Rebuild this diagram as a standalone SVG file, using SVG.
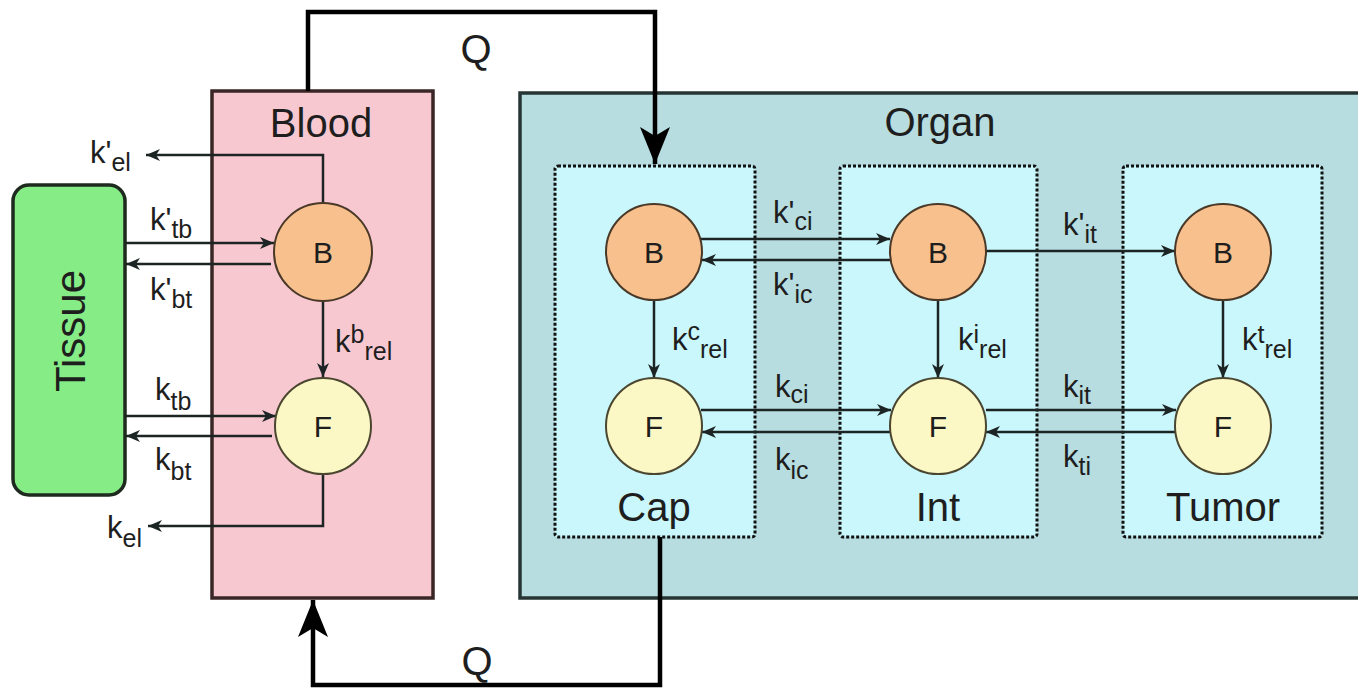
<svg xmlns="http://www.w3.org/2000/svg" width="1358" height="688" viewBox="0 0 1358 688">
<style>
text{font-family:"Liberation Sans",Arial,sans-serif;fill:#1e1e1e}
.t{font-size:40px;text-anchor:middle}
.n{font-size:30px;text-anchor:middle}
.k{font-size:31px}
.s{font-size:25px}
.cb{fill:#f8c08c;stroke:#4a3828;stroke-width:2}
.cf{fill:#fcf8c6;stroke:#4a4630;stroke-width:2}
.box{fill:#c9f7fb;stroke:#111;stroke-width:3;stroke-dasharray:3 2}
.ln{fill:none;stroke:#1c2424;stroke-width:2.5;marker-end:url(#a)}
.q{fill:none;stroke:#000;stroke-width:4.5}
</style>
<defs>
<marker id="a" markerUnits="userSpaceOnUse" markerWidth="14" markerHeight="12" refX="14" refY="6" orient="auto"><path d="M0,0 L14,6 L0,12 L4,6 z" fill="#1c2424"/></marker>
<marker id="qa" markerUnits="userSpaceOnUse" markerWidth="38" markerHeight="30" refX="37" refY="15" orient="auto"><path d="M0,0 L37,15 L0,30 L9,15 z" fill="#000"/></marker>
</defs>
<rect width="1358" height="688" fill="#fff"/>

<g id="organ">
<rect x="520" y="93" width="850" height="505" fill="#b7dde0" stroke="#263434" stroke-width="3.5"/>
<text class="t" x="940" y="136">Organ</text>
</g>
<g id="blood">
<rect x="212" y="91" width="221" height="507" fill="#f8c8d1" stroke="#3a2626" stroke-width="3.5"/>
<text class="t" x="321" y="137">Blood</text>
</g>
<g id="tissue">
<rect x="13" y="185" width="112" height="310" rx="16" fill="#86ec86" stroke="#1e2a1e" stroke-width="3.5"/>
<text font-size="42" text-anchor="middle" transform="translate(85,331) rotate(-90)" x="0" y="0">Tissue</text>
</g>
<g id="cap">
<rect class="box" x="555" y="166" width="200" height="371" rx="3"/>
<text class="t" x="654" y="521">Cap</text>
</g>
<g id="int">
<rect class="box" x="840" y="166" width="197" height="371" rx="3"/>
<text class="t" x="938" y="521">Int</text>
</g>
<g id="tumor">
<rect class="box" x="1123" y="166" width="199" height="371" rx="3"/>
<text class="t" x="1223" y="521">Tumor</text>
</g>

<g id="connectors">
<path class="q" d="M308,91 V12 H655 V164" marker-end="url(#qa)"/>
<path class="q" d="M660,537 V685 H313 V600" marker-end="url(#qa)"/>
<!-- blood -->
<path class="ln" d="M323,203 V155 H146"/>
<path class="ln" d="M125,243 H274"/>
<path class="ln" d="M271,264 H126"/>
<path class="ln" d="M323,301 V377"/>
<path class="ln" d="M125,416 H276"/>
<path class="ln" d="M272,436 H126"/>
<path class="ln" d="M323,473 V526 H148"/>
<!-- organ -->
<path class="ln" d="M701,239 H890"/>
<path class="ln" d="M891,260 H702"/>
<path class="ln" d="M701,410 H891"/>
<path class="ln" d="M891,432 H702"/>
<path class="ln" d="M986,251 H1175"/>
<path class="ln" d="M986,410 H1176"/>
<path class="ln" d="M1176,432 H986"/>
<path class="ln" d="M654,300 V378"/>
<path class="ln" d="M938,300 V378"/>
<path class="ln" d="M1223,300 V378"/>
</g>

<g id="labels">
<text class="t" x="476" y="63" font-size="38">Q</text>
<text class="t" x="477" y="675" font-size="38">Q</text>
<text class="k" x="90" y="163">k'<tspan class="s" dy="8">el</tspan></text>
<text class="k" x="150" y="230">k'<tspan class="s" dy="8">tb</tspan></text>
<text class="k" x="150" y="300">k'<tspan class="s" dy="8">bt</tspan></text>
<text class="k" x="155" y="400">k<tspan class="s" dy="10">tb</tspan></text>
<text class="k" x="155" y="470">k<tspan class="s" dy="10">bt</tspan></text>
<text class="k" x="107" y="538">k<tspan class="s" dy="9">el</tspan></text>
<text class="k" x="335" y="352">k<tspan class="s" dy="-9">b</tspan><tspan class="s" dy="17">rel</tspan></text>
<text class="k" x="773" y="223">k'<tspan class="s" dy="7">ci</tspan></text>
<text class="k" x="773" y="295">k'<tspan class="s" dy="8">ic</tspan></text>
<text class="k" x="775" y="397">k<tspan class="s" dy="6">ci</tspan></text>
<text class="k" x="775" y="470">k<tspan class="s" dy="9">ic</tspan></text>
<text class="k" x="1063" y="235">k'<tspan class="s" dy="8">it</tspan></text>
<text class="k" x="1063" y="397">k<tspan class="s" dy="7">it</tspan></text>
<text class="k" x="1063" y="467">k<tspan class="s" dy="8">ti</tspan></text>
<text class="k" x="672" y="350">k<tspan class="s" dy="-10">c</tspan><tspan class="s" dy="18">rel</tspan></text>
<text class="k" x="958" y="350">k<tspan class="s" dy="-7">i</tspan><tspan class="s" dy="15">rel</tspan></text>
<text class="k" x="1242" y="350">k<tspan class="s" dy="-7">t</tspan><tspan class="s" dy="15">rel</tspan></text>
</g>

<g id="blood-B"><circle class="cb" cx="323" cy="252" r="49"/><text class="n" x="323" y="263">B</text></g>
<g id="blood-F"><circle class="cf" cx="323" cy="426" r="48"/><text class="n" x="323" y="437">F</text></g>
<g id="cap-B"><circle class="cb" cx="654" cy="252" r="48"/><text class="n" x="654" y="263">B</text></g>
<g id="cap-F"><circle class="cf" cx="654" cy="426" r="48"/><text class="n" x="654" y="437">F</text></g>
<g id="int-B"><circle class="cb" cx="938" cy="252" r="48"/><text class="n" x="938" y="263">B</text></g>
<g id="int-F"><circle class="cf" cx="938" cy="426" r="48"/><text class="n" x="938" y="437">F</text></g>
<g id="tumor-B"><circle class="cb" cx="1223" cy="252" r="48"/><text class="n" x="1223" y="263">B</text></g>
<g id="tumor-F"><circle class="cf" cx="1223" cy="426" r="48"/><text class="n" x="1223" y="437">F</text></g>
</svg>
